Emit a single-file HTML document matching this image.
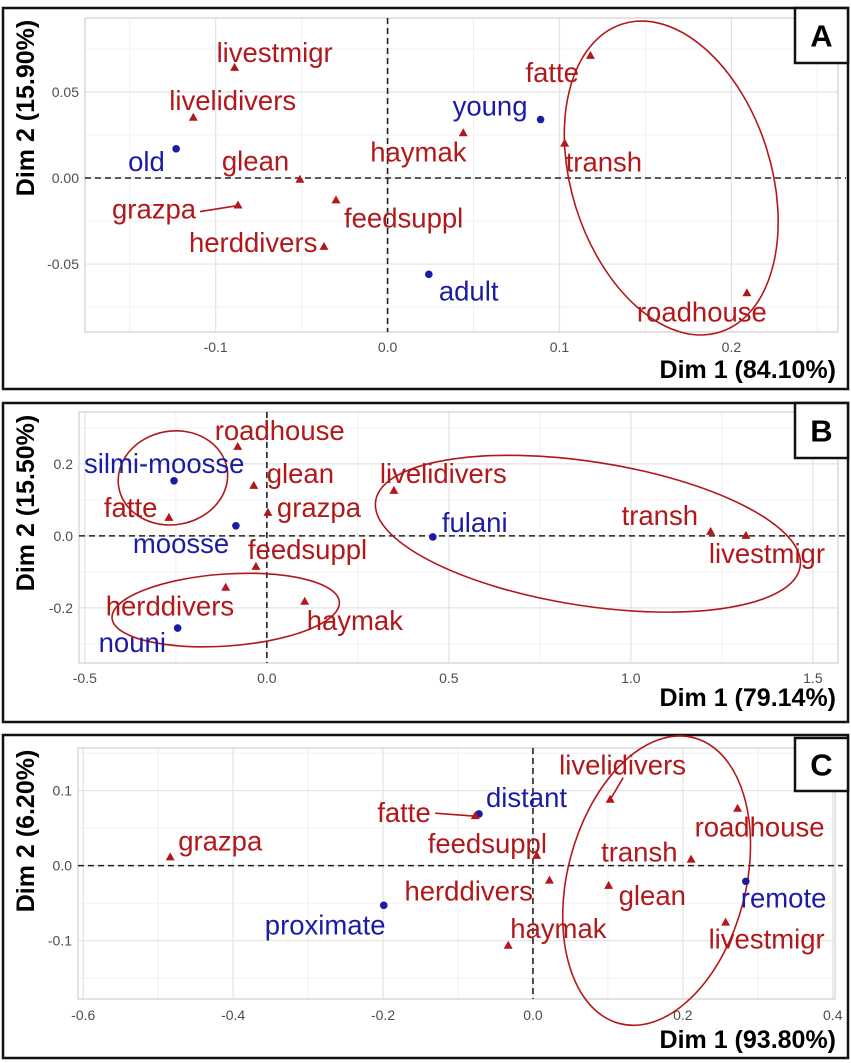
<!DOCTYPE html>
<html><head><meta charset="utf-8"><style>
html,body{margin:0;padding:0;background:#fff;}
svg{display:block;font-family:"Liberation Sans",Arial,sans-serif;}
.lab{font-size:27.5px;}
.tick{font-size:14px;fill:#4d4d4d;}
.axt{font-size:25px;font-weight:bold;fill:#000;}
</style></head><body>
<svg id="fig" width="851" height="1063" viewBox="0 0 851 1063"></svg>
<script>
// ---------- Panel A (age groups) ----------
const aNames=["livestmigr","livelidivers","old","glean","haymak","young","fatte","transh","grazpa","feedsuppl","herddivers","adult","roadhouse"];
const aX=[-0.089,-0.113,-0.123,-0.051,0.044,0.089,0.118,0.103,-0.087,-0.030,-0.037,0.024,0.209];
const aY=[0.064,0.035,0.017,-0.001,0.026,0.034,0.071,0.020,-0.016,-0.013,-0.040,-0.056,-0.067];
const aType=["v","v","g","v","v","g","v","v","v","v","v","g","v"];
const aXTicks=[-0.1,0.0,0.1,0.2];
const aYTicks=[0.05,0.00,-0.05];
const aXTickLabels=["-0.1","0.0","0.1","0.2"];
const aYTickLabels=["0.05","0.00","-0.05"];
// ---------- Panel B (ethnic groups) ----------
const bNames=["roadhouse","silmi-moosse","glean","livelidivers","fatte","grazpa","fulani","transh","moosse","feedsuppl","livestmigr","herddivers","haymak","nouni"];
const bX=[-0.080,-0.255,-0.036,0.349,-0.269,0.003,0.456,1.219,-0.085,-0.030,1.316,-0.113,0.104,-0.245];
const bY=[0.247,0.153,0.139,0.125,0.050,0.064,-0.003,0.011,0.028,-0.086,0.000,-0.144,-0.183,-0.256];
const bType=["v","g","v","v","v","v","g","v","g","v","v","v","v","g"];
const bXTicks=[-0.5,0.0,0.5,1.0,1.5];
const bYTicks=[0.2,0.0,-0.2];
const bXTickLabels=["-0.5","0.0","0.5","1.0","1.5"];
const bYTickLabels=["0.2","0.0","-0.2"];
// ---------- Panel C (distance) ----------
const cNames=["livelidivers","distant","fatte","roadhouse","grazpa","feedsuppl","transh","herddivers","glean","remote","proximate","haymak","livestmigr"];
const cX=[0.103,-0.072,-0.077,0.273,-0.484,0.005,0.211,0.022,0.101,0.284,-0.199,-0.033,0.257];
const cY=[0.088,0.069,0.066,0.076,0.011,0.013,0.008,-0.020,-0.027,-0.021,-0.053,-0.107,-0.076];
const cType=["v","g","v","v","v","v","v","v","v","g","g","v","v"];
const cXTicks=[-0.6,-0.4,-0.2,0.0,0.2,0.4];
const cYTicks=[0.1,0.0,-0.1];
const cXTickLabels=["-0.6","-0.4","-0.2","0.0","0.2","0.4"];
const cYTickLabels=["0.1","0.0","-0.1"];
// ellipses: center x, center y, semi-axis x, semi-axis y (data units)
const aEllCx=[0.165], aEllCy=[0.0], aEllRx=[0.094], aEllRy=[0.058];
const bEllCx=[-0.258,-0.113,0.882], bEllCy=[0.161,-0.206,0.006], bEllRx=[0.151,0.313,0.59], bEllRy=[0.13,0.10,0.20];
const cEllCx=[0.165], cEllCy=[-0.02], cEllRx=[0.197], cEllRy=[0.119];

const NS="http://www.w3.org/2000/svg";
const svg=document.getElementById('fig');
function mk(tag,attrs,parent){const e=document.createElementNS(NS,tag);for(const k in attrs)e.setAttribute(k,attrs[k]);(parent||svg).appendChild(e);return e;}
const RED="#b2181b", BLUE="#1c1ca3";

const panels=[
 {id:"a",letter:"A",box:[3,8,848,389],lbox:[795,8,848,63],plot:[85,18,838,332],xd:[-0.176,0.262],yd:[0.0930,-0.0895],
  names:aNames,xs:aX,ys:aY,types:aType,xt:aXTicks,yt:aYTicks,xtl:aXTickLabels,ytl:aYTickLabels,
  ecx:aEllCx,ecy:aEllCy,erx:aEllRx,ery:aEllRy,erot:[72.4],
  xtitle:"Dim 1 (84.10%)",ytitle:"Dim 2 (15.90%)",xtY:378,ytCy:108,tickY:352,
  off:[[-18,-6],[-24,-8],[-48,22],[-78,-9],[-93,28],[-88,-4],[-65,26],[1,28],[-126,13],[8,27],[-135,5],[10,26],[-110,28]],
  leaders:{8:[-38,6]}},
 {id:"b",letter:"B",box:[3,403,848,722],lbox:[795,403,848,458],plot:[79,412,838,663],xd:[-0.516,1.569],yd:[0.344,-0.353],
  names:bNames,xs:bX,ys:bY,types:bType,xt:bXTicks,yt:bYTicks,xtl:bXTickLabels,ytl:bYTickLabels,
  ecx:bEllCx,ecy:bEllCy,erx:bEllRx,ery:bEllRy,erot:[-10,-4,8.8],
  xtitle:"Dim 1 (79.14%)",ytitle:"Dim 2 (15.50%)",xtY:706,ytCy:503,tickY:683,
  off:[[-23,-7],[-90,-8],[13,-3],[-14,-8],[-65,-1],[9,4],[9,-5],[-89,-7],[-103,27],[-8,-8],[-37,27],[-120,28],[2,28],[-79,24]],
  leaders:{}},
 {id:"c",letter:"C",box:[3,735,848,1058],lbox:[795,738,848,791],plot:[78,748,835,999],xd:[-0.607,0.403],yd:[0.157,-0.178],
  names:cNames,xs:cX,ys:cY,types:cType,xt:cXTicks,yt:cYTicks,xtl:cXTickLabels,ytl:cYTickLabels,
  ecx:cEllCx,ecy:cEllCy,erx:cEllRx,ery:cEllRy,erot:[104.5],
  xtitle:"Dim 1 (93.80%)",ytitle:"Dim 2 (6.20%)",xtY:1048,ytCy:831,tickY:1020,
  off:[[-51,-25],[7,-7],[-98,6],[-43,28],[8,-7],[-109,-3],[-90,2],[-145,20],[10,19],[-5,26],[-119,29],[2,-8],[-17,26]],
  leaders:{0:[13,-22],2:[-40,-3]}}
];

panels.forEach(p=>{
  const g=mk('g',{});
  
  
  const [L,T,R,B]=p.plot;
  const sx=v=>L+(v-p.xd[0])/(p.xd[1]-p.xd[0])*(R-L);
  const sy=v=>T+(v-p.yd[0])/(p.yd[1]-p.yd[0])*(B-T);
  const kx=(R-L)/(p.xd[1]-p.xd[0]), ky=(B-T)/(p.yd[0]-p.yd[1]);
  const ob=mk('rect',{x:p.box[0],y:p.box[1],width:p.box[2]-p.box[0],height:p.box[3]-p.box[1],fill:'#fff',stroke:'#111','stroke-width':2.5},g);
  
  
  const stepX=p.xt[1]-p.xt[0], stepY=p.yt[0]-p.yt[1];
  for(let i=-1;i<p.xt.length;i++){const v=p.xt[0]+(i+0.5)*stepX;const x=sx(v);if(x>L&&x<R)mk('line',{x1:x,x2:x,y1:T,y2:B,stroke:'#f0f0f0','stroke-width':1},g);}
  for(let i=-1;i<p.yt.length;i++){const v=p.yt[0]-(i+0.5)*stepY;const y=sy(v);if(y>T&&y<B)mk('line',{x1:L,x2:R,y1:y,y2:y,stroke:'#f0f0f0','stroke-width':1},g);}
  p.xt.forEach((v,i)=>{const x=sx(v);
    const gl=mk('line',{x1:x,x2:x,y1:T,y2:B,stroke:'#e3e3e3','stroke-width':1.2},g);
    
    
    const t=mk('text',{x:x,y:p.tickY,'text-anchor':'middle',class:'tick'},g);t.textContent=p.xtl[i];
    
    });
  p.yt.forEach((v,i)=>{const y=sy(v);
    const gl=mk('line',{x1:L,x2:R,y1:y,y2:y,stroke:'#e3e3e3','stroke-width':1.2},g);
    
    
    const t=mk('text',{x:L-6,y:y+5,'text-anchor':'end',class:'tick'},g);t.textContent=p.ytl[i];
    
    });
  mk('rect',{x:L,y:T,width:R-L,height:B-T,fill:'none',stroke:'#cfcfcf','stroke-width':1.2},g);
  const zx=mk('line',{x1:sx(0),x2:sx(0),y1:T,y2:B,stroke:'#222','stroke-width':1.6,'stroke-dasharray':'6,4'},g);
  
  
  const zy=mk('line',{x1:L,x2:R+8,y1:sy(0),y2:sy(0),stroke:'#222','stroke-width':1.6,'stroke-dasharray':'6,4'},g);
  
  
  p.ecx.forEach((cx,i)=>{
    const el=mk('ellipse',{cx:sx(cx),cy:sy(p.ecy[i]),rx:p.erx[i]*kx,ry:p.ery[i]*ky,fill:'none',stroke:RED,'stroke-width':1.6,
      transform:'rotate('+p.erot[i]+' '+sx(cx)+' '+sy(p.ecy[i])+')'},g);
    
    
  });
  p.names.forEach((n,i)=>{
    const x=sx(p.xs[i]), y=sy(p.ys[i]); const col=p.types[i]==='g'?BLUE:RED;
    let m;
    if(p.types[i]==='g'){m=mk('circle',{cx:x,cy:y,r:3.8,fill:col},g);}
    else{m=mk('path',{d:'M'+x+' '+(y-5)+' L'+(x+4.5)+' '+(y+3)+' L'+(x-4.5)+' '+(y+3)+' Z',fill:col},g);}
    
    
    const o=p.off[i];
    const t=mk('text',{x:x+o[0],y:y+o[1],fill:col,class:'lab'},g);t.textContent=n;
    
    
    if(p.leaders[i]){const ld=p.leaders[i];
      const ln=mk('line',{x1:x+ld[0],y1:y+ld[1],x2:x,y2:y,stroke:col,'stroke-width':1.6},g);
      
      }
  });
  const xt=mk('text',{x:836,y:p.xtY,'text-anchor':'end',class:'axt'},g);xt.textContent=p.xtitle;
  
  
  const yt=mk('text',{x:0,y:0,'text-anchor':'middle',class:'axt',transform:'translate(34,'+p.ytCy+') rotate(-90)'},g);yt.textContent=p.ytitle;
  
  
  const lb=mk('rect',{x:p.lbox[0],y:p.lbox[1],width:p.lbox[2]-p.lbox[0],height:p.lbox[3]-p.lbox[1],fill:'#fff',stroke:'#111','stroke-width':2.5},g);
  
  
  const lt=mk('text',{x:(p.lbox[0]+p.lbox[2])/2,y:(p.lbox[1]+p.lbox[3])/2+11,'text-anchor':'middle','font-size':31,'font-weight':'bold'},g);lt.textContent=p.letter;
  
  
});
</script>
</body></html>
